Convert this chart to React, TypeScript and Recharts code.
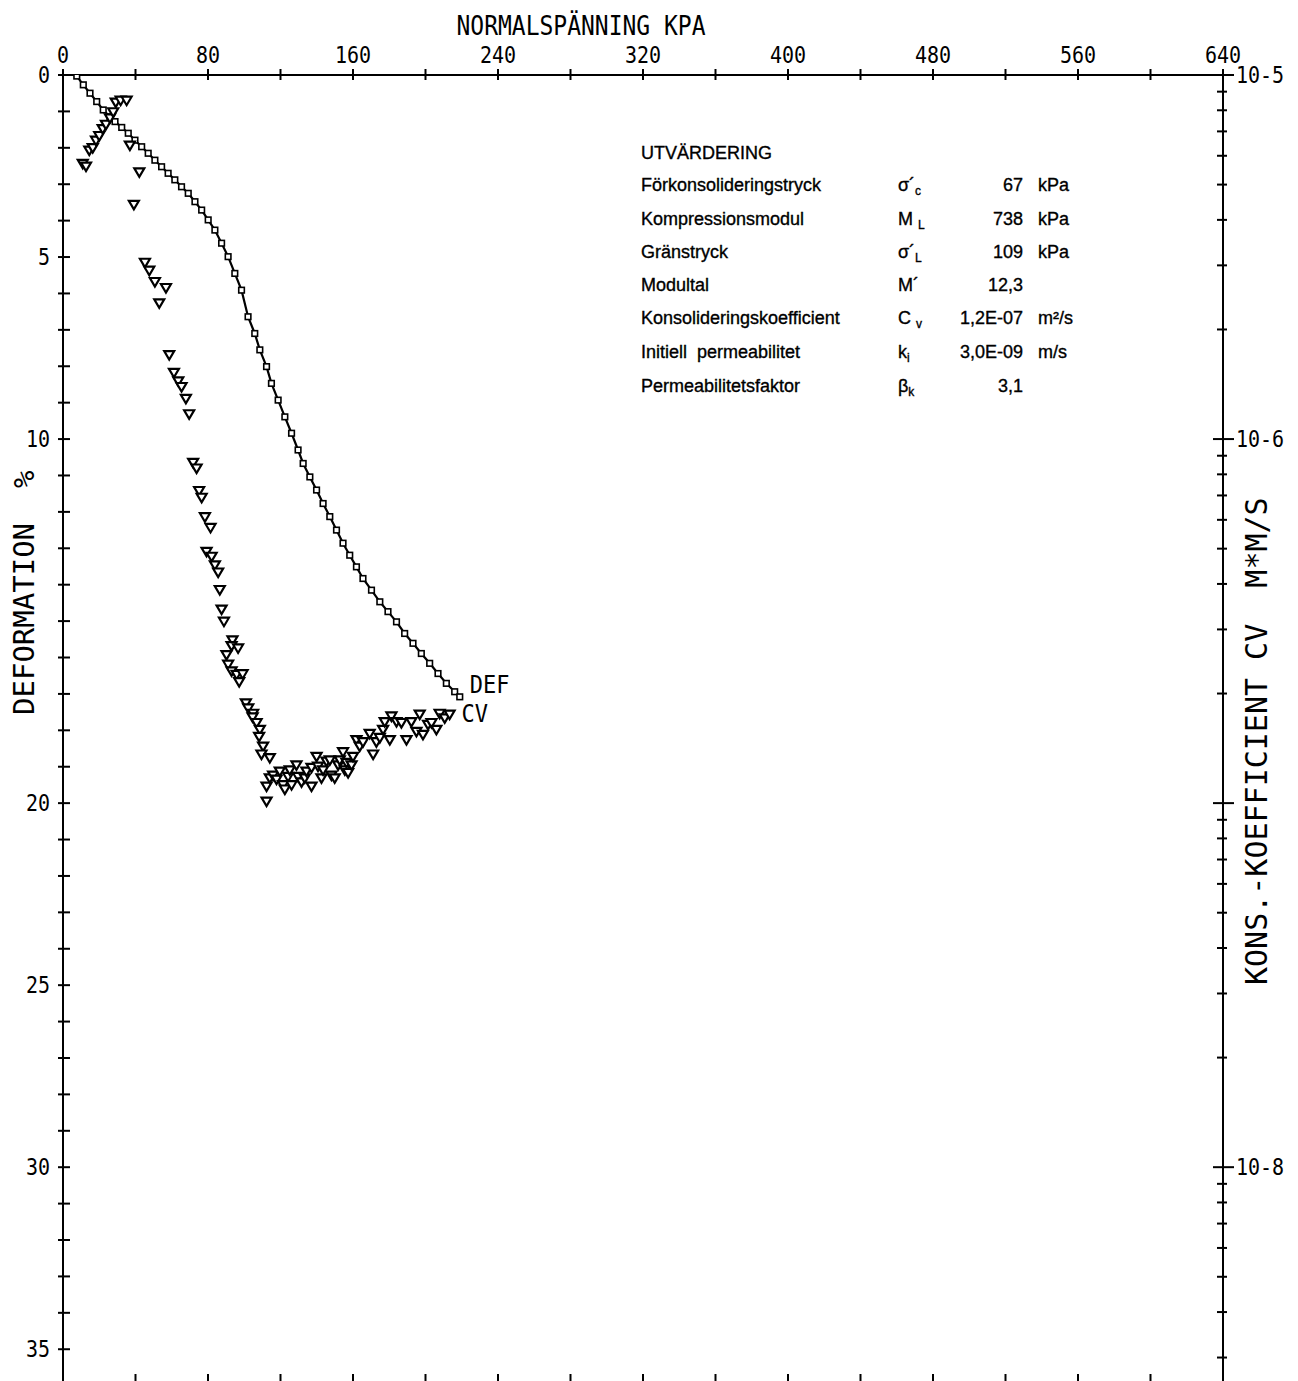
import React from 'react';
import { ScatterChart, Scatter, XAxis, YAxis } from 'recharts';

// deformation curve (kPa, %)
const defKpa = [7.6, 11.2, 14.9, 18.6, 22.2, 25.9, 28.7, 32.4, 36.0, 39.7, 43.4, 47.0, 50.7, 54.4, 58.0, 61.7, 65.4, 69.1, 72.8, 76.5, 80.1, 83.8, 87.5, 91.1, 94.8, 98.5, 102.1, 105.8, 108.6, 112.3, 115.0, 118.7, 122.4, 126.1, 129.7, 132.5, 136.2, 139.9, 143.5, 147.2, 150.9, 154.5, 158.2, 161.9, 165.5, 170.2, 174.8, 179.3, 184.0, 188.5, 193.1, 197.7, 202.3, 206.9, 211.5, 216.1, 218.9];
const defPct = [0.03, 0.27, 0.5, 0.73, 0.96, 1.15, 1.28, 1.44, 1.6, 1.79, 1.97, 2.15, 2.34, 2.52, 2.7, 2.88, 3.07, 3.25, 3.48, 3.71, 3.98, 4.26, 4.62, 4.99, 5.45, 5.91, 6.64, 7.1, 7.55, 8.01, 8.47, 8.93, 9.39, 9.84, 10.3, 10.67, 11.04, 11.4, 11.77, 12.13, 12.5, 12.86, 13.19, 13.51, 13.83, 14.15, 14.47, 14.74, 15.02, 15.34, 15.61, 15.89, 16.16, 16.44, 16.71, 16.94, 17.08];

// consolidation coefficient points (kPa, m*m/s)
const cvKpa = [10.9, 12.7, 14.5, 16.4, 18.2, 20.0, 21.9, 23.7, 25.9, 27.7, 29.1, 31.8, 35.1, 36.9, 42.1, 39.1, 45.2, 47.6, 50.7, 56.8, 53.1, 58.6, 61.2, 63.6, 65.4, 67.8, 69.6, 71.8, 73.7, 75.1, 76.5, 78.3, 81.4, 79.2, 82.0, 83.8, 85.6, 86.5, 87.5, 88.8, 93.5, 93.0, 96.6, 90.2, 91.1, 93.0, 95.8, 99.1, 97.2, 100.9, 102.2, 104.9, 104.6, 106.8, 108.6, 108.2, 110.4, 109.5, 114.1, 112.3, 112.3, 114.1, 115.9, 117.8, 119.6, 121.4, 122.4, 124.2, 125.1, 126.1, 128.8, 129.7, 131.6, 133.4, 134.3, 137.1, 137.1, 139.9, 140.7, 142.6, 143.5, 145.4, 147.2, 148.1, 149.9, 151.8, 152.7, 154.5, 155.5, 156.4, 157.3, 159.2, 160.0, 161.9, 163.7, 165.5, 169.2, 171.1, 172.9, 174.8, 176.6, 177.5, 180.3, 181.2, 184.0, 186.7, 189.5, 192.2, 195.0, 196.8, 198.6, 201.4, 203.3, 206.0, 207.8, 210.6, 213.3];
const cvVal = [5.7e-6, 5.6e-6, 6.2e-6, 6.3e-6, 6.6e-6, 6.8e-6, 7.1e-6, 7.3e-6, 7.6e-6, 7.9e-6, 8.4e-6, 8.5e-6, 8.5e-6, 6.4e-6, 5.4e-6, 4.4e-6, 3.05e-6, 2.9e-6, 2.7e-6, 2.6e-6, 2.36e-6, 1.7e-6, 1.52e-6, 1.44e-6, 1.39e-6, 1.29e-6, 1.17e-6, 8.6e-7, 8.3e-7, 7.2e-7, 6.9e-7, 6.1e-7, 5.7e-7, 4.9e-7, 4.75e-7, 4.5e-7, 4.3e-7, 3.85e-7, 3.4e-7, 3.15e-7, 2.8e-7, 2.7e-7, 2.66e-7, 2.55e-7, 2.4e-7, 2.3e-7, 2.25e-7, 2.26e-7, 2.15e-7, 1.88e-7, 1.82e-7, 1.76e-7, 1.72e-7, 1.66e-7, 1.59e-7, 1.52e-7, 1.43e-7, 1.36e-7, 1.33e-7, 1.01e-7, 1.11e-7, 1.17e-7, 1.19e-7, 1.16e-7, 1.22e-7, 1.12e-7, 1.09e-7, 1.18e-7, 1.23e-7, 1.12e-7, 1.27e-7, 1.18e-7, 1.14e-7, 1.17e-7, 1.22e-7, 1.11e-7, 1.25e-7, 1.34e-7, 1.26e-7, 1.17e-7, 1.23e-7, 1.3e-7, 1.31e-7, 1.19e-7, 1.17e-7, 1.27e-7, 1.31e-7, 1.38e-7, 1.23e-7, 1.29e-7, 1.21e-7, 1.27e-7, 1.34e-7, 1.49e-7, 1.43e-7, 1.47e-7, 1.55e-7, 1.36e-7, 1.47e-7, 1.51e-7, 1.59e-7, 1.67e-7, 1.49e-7, 1.73e-7, 1.67e-7, 1.66e-7, 1.49e-7, 1.67e-7, 1.57e-7, 1.75e-7, 1.54e-7, 1.64e-7, 1.66e-7, 1.59e-7, 1.76e-7, 1.71e-7, 1.75e-7];

// axes
const xTicks = [0, 40, 80, 120, 160, 200, 240, 280, 320, 360, 400, 440, 480, 520, 560, 600, 640];
const xLabels = [0, 80, 160, 240, 320, 400, 480, 560, 640];
const defTicks = Array.from({ length: 36 }, (_, i) => i);
const defLabels = [0, 5, 10, 20, 25, 30, 35]; // 15 is hidden under the axis title
const cvDecades = [1e-5, 1e-6, 1e-7, 1e-8, 1e-9];
const cvMantissa = [1, 2, 3, 4, 5, 6, 7, 8, 9];
const cvLabels: Record<string, string> = { '-5': '10-5', '-6': '10-6', '-8': '10-8' };
const CV_MIN = 2.57e-9;
const CV_MAX = 1e-5;
const cvTicks = cvDecades
  .flatMap((d) => cvMantissa.map((m) => +(m * d).toPrecision(3)))
  .filter((v) => v >= CV_MIN && v <= CV_MAX);

// evaluation box
const evalTitle = 'UTVÄRDERING';
const evalNames = ['Förkonsolideringstryck', 'Kompressionsmodul', 'Gränstryck', 'Modultal', 'Konsolideringskoefficient', 'Initiell  permeabilitet', 'Permeabilitetsfaktor'];
const evalSymbols = [['σ´', 'c'], ['M ', 'L'], ['σ´', 'L'], ['M´', ''], ['C ', 'v'], ['k', 'i'], ['β', 'k']];
const evalValues = ['67', '738', '109', '12,3', '1,2E-07', '3,0E-09', '3,1'];
const evalUnits = ['kPa', 'kPa', 'kPa', '', 'm²/s', 'm/s', ''];

const defData = defKpa.map((kpa, i) => ({ kpa, def: defPct[i] }));
const cvData = cvKpa.map((kpa, i) => ({ kpa, cv: cvVal[i] }));

const W = 1290;
const H = 1394;
const MONO = "'DejaVu Sans Mono', monospace";
const SANS = "'Liberation Sans', Arial, sans-serif";

// plotter-like lettering: a bit taller than the font draws it
const Tall = ({ x, y, size, anchor, children }: any) => (
  <text
    transform={`translate(${x},${y}) scale(1,1.15)`}
    textAnchor={anchor || 'start'}
    fontFamily={MONO}
    fontSize={size}
    fill="#000"
    xmlSpace="preserve"
  >
    {children}
  </text>
);

const TopTick = (p: any) => {
  const v = p.payload.value;
  return (
    <g>
      <line x1={p.x} x2={p.x} y1={p.y - 6} y2={p.y + 5} stroke="#000" strokeWidth={2} />
      {xLabels.includes(v) && <Tall x={p.x} y={p.y - 12} size={20} anchor="middle">{v}</Tall>}
    </g>
  );
};

const BottomTick = (p: any) => (
  <line x1={p.x} x2={p.x} y1={p.y - 8} y2={p.y} stroke="#000" strokeWidth={2} />
);

const LeftTick = (p: any) => {
  const v = p.payload.value;
  return (
    <g>
      <line x1={p.x - 5} x2={p.x + 7} y1={p.y} y2={p.y} stroke="#000" strokeWidth={2} />
      {defLabels.includes(v) && <Tall x={p.x - 13} y={p.y + 8} size={20} anchor="end">{v}</Tall>}
    </g>
  );
};

const RightTick = (p: any) => {
  const v = p.payload.value;
  const lg = Math.log10(v);
  const major = Math.abs(lg - Math.round(lg)) < 1e-6;
  const label = major ? cvLabels[String(Math.round(lg))] : undefined;
  return (
    <g>
      <line x1={p.x - (major ? 10 : 6)} x2={p.x + (major ? 11 : 4)} y1={p.y} y2={p.y} stroke="#000" strokeWidth={2} />
      {label && <Tall x={p.x + 13} y={p.y + 8} size={20}>{label}</Tall>}
    </g>
  );
};

const lastDef = defData[defData.length - 1];
const lastCv = cvData[cvData.length - 1];

const SquareMark = (p: any) => (
  <g>
    <rect x={p.cx - 2.8} y={p.cy - 2.8} width={5.6} height={5.6} fill="#fff" stroke="#000" strokeWidth={1.6} />
    {p.payload === lastDef && <Tall x={p.cx + 10} y={p.cy - 4} size={22}>DEF</Tall>}
  </g>
);

const TriMark = (p: any) => (
  <g>
    <path
      d={`M${p.cx - 5},${p.cy - 4}L${p.cx + 5},${p.cy - 4}L${p.cx},${p.cy + 4.5}Z`}
      fill="#fff"
      stroke="#000"
      strokeWidth={2.2}
      strokeLinejoin="miter"
    />
    {p.payload === lastCv && <Tall x={p.cx + 12} y={p.cy + 7} size={22}>CV</Tall>}
  </g>
);

const TopTitle = () => <Tall x={573} y={27} size={23} anchor="middle">NORMALSPÄNNING KPA</Tall>;

const RightTitle = () => (
  <text x={1259} y={977} transform="rotate(-90 1259 977)" fontFamily={MONO} fontSize={30} fill="#000" xmlSpace="preserve">
    KONS.-KOEFFICIENT CV  M*M/S
  </text>
);

// left axis title sits partly in the page margin, so it is drawn in the overlay
const LeftTitle = () => (
  <text x={26} y={707} transform="rotate(-90 26 707)" fontFamily={MONO} fontSize={29} fill="#000" xmlSpace="preserve">
    DEFORMATION  %
  </text>
);

const EvalBox = () => {
  const ox = -8;
  const oy = -8;
  const rowY = [191, 225, 258, 291, 324, 358, 392];
  return (
    <g fontFamily={SANS} fontSize={18} fill="#000" stroke="#000" strokeWidth={0.35}>
      <text x={641 + ox} y={159 + oy}>{evalTitle}</text>
      {evalNames.map((n, i) => (
        <g key={n}>
          <text x={641 + ox} y={rowY[i] + oy} xmlSpace="preserve">{n}</text>
          <text x={898 + ox} y={rowY[i] + oy} xmlSpace="preserve">
            {evalSymbols[i][0]}
            <tspan fontSize={12} dy={4}>{evalSymbols[i][1]}</tspan>
          </text>
          <text x={1023 + ox} y={rowY[i] + oy} textAnchor="end">{evalValues[i]}</text>
          <text x={1038 + ox} y={rowY[i] + oy}>{evalUnits[i]}</text>
        </g>
      ))}
    </g>
  );
};

export default function App() {
  return (
    <div style={{ position: 'relative', width: W, height: H, background: '#fff' }}>
      <style>{'body{overflow:hidden}'}</style>
      <ScatterChart width={W} height={H} margin={{ top: 0, right: 0, bottom: 0, left: 0 }}>
        <XAxis
          xAxisId="top"
          orientation="top"
          type="number"
          dataKey="kpa"
          domain={[0, 640]}
          ticks={xTicks}
          interval={0}
          height={67}
          tickSize={0}
          tickMargin={0}
          tick={TopTick}
          axisLine={{ stroke: '#000', strokeWidth: 2 }}
          tickLine={false}
          allowDataOverflow
          label={<TopTitle />}
        />
        <XAxis
          xAxisId="bottom"
          orientation="bottom"
          type="number"
          dataKey="kpa"
          domain={[0, 640]}
          ticks={xTicks}
          interval={0}
          height={20}
          tickSize={0}
          tickMargin={0}
          tick={BottomTick}
          axisLine={{ stroke: '#000', strokeWidth: 2 }}
          tickLine={false}
          allowDataOverflow
        />
        <YAxis
          yAxisId="def"
          orientation="left"
          type="number"
          dataKey="def"
          domain={[0, 35.9]}
          reversed
          ticks={defTicks}
          interval={0}
          width={55}
          tickSize={0}
          tickMargin={0}
          tick={LeftTick}
          axisLine={{ stroke: '#000', strokeWidth: 2 }}
          tickLine={false}
          allowDataOverflow
        />
        <YAxis
          yAxisId="cv"
          orientation="right"
          type="number"
          dataKey="cv"
          scale="log"
          domain={[CV_MIN, CV_MAX]}
          ticks={cvTicks}
          interval={0}
          width={75}
          tickSize={0}
          tickMargin={0}
          tick={RightTick}
          axisLine={{ stroke: '#000', strokeWidth: 2 }}
          tickLine={false}
          allowDataOverflow
          label={<RightTitle />}
        />
        <Scatter
          name="DEF"
          data={defData}
          xAxisId="top"
          yAxisId="def"
          line={{ stroke: '#000', strokeWidth: 2.2 }}
          lineType="joint"
          shape={SquareMark}
          isAnimationActive={false}
        />
        <Scatter
          name="CV"
          data={cvData}
          xAxisId="top"
          yAxisId="cv"
          shape={TriMark}
          isAnimationActive={false}
        />
      </ScatterChart>
      <svg
        width={W}
        height={H}
        style={{ position: 'absolute', left: 0, top: 0, pointerEvents: 'none', overflow: 'visible' }}
      >
        <LeftTitle />
        <EvalBox />
        <line x1={1287} x2={1287} y1={-8} y2={H} stroke="#000" strokeWidth={2} />
      </svg>
    </div>
  );
}
